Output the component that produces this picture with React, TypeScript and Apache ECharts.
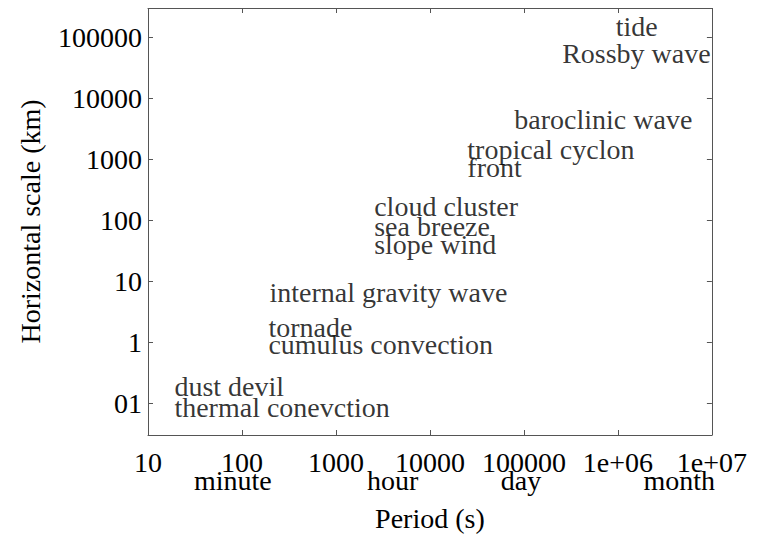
import React, { useEffect, useRef } from "react";
import * as echarts from "echarts";

// Axis ticks and their printed labels
const xTickValues = [10, 100, 1000, 10000, 100000, 1e6, 1e7];
const xTickLabels = ["10", "100", "1000", "10000", "100000", "1e+06", "1e+07"];
const yTickValues = [0.1, 1, 10, 100, 1000, 10000, 100000];
const yTickLabels = ["01", "1", "10", "100", "1000", "10000", "100000"];

// Phenomena: period (s) and horizontal scale (km) of the label anchor (left edge)
const phenomena = [
  "tide",
  "Rossby wave",
  "baroclinic wave",
  "tropical cyclon",
  "front",
  "cloud cluster",
  "sea breeze",
  "slope wind",
  "internal gravity wave",
  "tornade",
  "cumulus convection",
  "dust devil",
  "thermal conevction",
];
const periods = [9.5e5, 2.55e5, 7.9e4, 2.5e4, 2.5e4, 2550, 2550, 2550, 196, 191, 191, 19.1, 19.1];
const scales = [1.48e5, 5.4e4, 4.5e3, 1420, 720, 167, 79, 40, 6.6, 1.71, 0.9, 0.187, 0.085];

// Time unit labels under the period axis
const timeUnitNames = ["minute", "hour", "day", "month"];
const timeUnitPeriods = [80, 4000, 93000, 4.5e6];

const FONT = "Liberation Serif";
const FS = 28;
const LINE = "#555";

function lookup(values: number[], labels: string[], v: number): string {
  const lv = Math.log10(v);
  for (let i = 0; i < values.length; i++) {
    if (Math.abs(Math.log10(values[i]) - lv) < 0.01) return labels[i];
  }
  return "";
}

export default function App() {
  const ref = useRef<HTMLDivElement>(null);
  useEffect(() => {
    if (!ref.current) return;
    const chart = echarts.init(ref.current, undefined, { renderer: "svg" });
    const textBase = { fontFamily: FONT, fontSize: FS, color: "#000" };
    const frameAxis = {
      type: "log" as const,
      axisLine: { show: true, lineStyle: { color: LINE, width: 1 } },
      axisTick: { show: true, inside: true, length: 5, lineStyle: { color: LINE } },
      splitLine: { show: false },
    };
    chart.setOption({
      animation: false,
      grid: { left: 136, right: 30, top: 0, bottom: 100, containLabel: false },
      xAxis: [
        {
          ...frameAxis,
          position: "bottom",
          min: 10,
          max: 1e7,
          name: "Period (s)",
          nameLocation: "middle",
          nameGap: 69,
          nameTextStyle: { ...textBase },
          axisLabel: {
            ...textBase,
            margin: 13,
            formatter: (v: number) => lookup(xTickValues, xTickLabels, v),
          },
        },
        {
          ...frameAxis,
          position: "top",
          min: 10,
          max: 1e7,
          axisLabel: { show: false },
        },
        {
          type: "log",
          position: "bottom",
          min: 10,
          max: 1e7,
          axisLine: { show: false },
          axisTick: { show: false },
          splitLine: { show: false },
          axisLabel: {
            ...textBase,
            margin: 31,
            customValues: timeUnitPeriods,
            formatter: (v: number) => lookup(timeUnitPeriods, timeUnitNames, v),
          },
        },
      ],
      yAxis: [
        {
          ...frameAxis,
          position: "left",
          min: 0.03,
          max: 300000,
          name: "Horizontal scale (km)",
          nameLocation: "middle",
          nameGap: 104,
          nameRotate: 90,
          nameTextStyle: { ...textBase },
          axisLabel: {
            ...textBase,
            margin: 6,
            showMinLabel: false,
            showMaxLabel: false,
            formatter: (v: number) => lookup(yTickValues, yTickLabels, v),
          },
        },
        {
          ...frameAxis,
          position: "right",
          min: 0.03,
          max: 300000,
          axisLabel: { show: false },
        },
      ],
      series: [
        {
          type: "scatter",
          xAxisIndex: 0,
          yAxisIndex: 0,
          silent: true,
          symbolSize: 0,
          data: phenomena.map((n, i) => ({ name: n, value: [periods[i], scales[i]] })),
          label: {
            show: true,
            position: "right",
            distance: 0,
            formatter: (p: any) => p.name,
            ...textBase,
          },
        },
      ],
    });
    return () => chart.dispose();
  }, []);
  return <div ref={ref} style={{ width: 742, height: 529 }} />;
}
